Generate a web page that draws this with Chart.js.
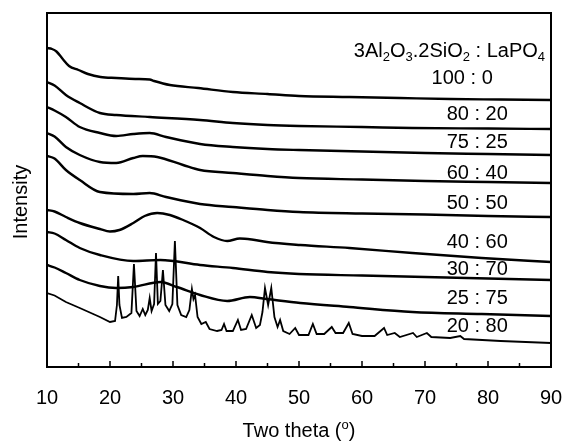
<!DOCTYPE html>
<html>
<head>
<meta charset="utf-8">
<script src="https://cdn.jsdelivr.net/npm/chart.js@4.4.0/dist/chart.umd.min.js"></script>
<style>
  html, body { margin: 0; padding: 0; background: #fff; }
</style>
</head>
<body>
<canvas id="xrdChart" width="564" height="442"></canvas>
<script>
const FONT = "'Liberation Sans', Arial, sans-serif";

const xTicks = [10, 20, 30, 40, 50, 60, 70, 80, 90];
const ratioLabels = ["100 : 0", "80 : 20", "75 : 25", "60 : 40", "50 : 50", "40 : 60", "30 : 70", "25 : 75", "20 : 80"];

// [two theta, intensity] - patterns are stacked, intensity in arbitrary units
const m100 = [[10,319],[10.8,318],[11.5,315.5],[12.5,308],[13.5,301],[15,297],[16.5,293],[18.5,290],[21,289],[24,288],[26.3,287.5],[27,286],[29.5,282],[34,279],[39.5,275],[45,273],[50,271],[58,270],[66,269],[74,268],[82,267.5],[90,267]];
const m80 = [[10,285],[11.2,281.5],[13,272],[15.2,264],[18.4,254],[21,252],[26.3,250],[34.3,247],[39.5,244],[45,242],[50,241],[60,240],[68,239],[80,238.5],[90,238]];
const m75 = [[10,260],[11.2,256.5],[13,250],[15.2,240],[18.4,234],[21,231],[23.7,233],[26.3,234],[28.9,230],[34.3,223],[39.5,220],[45,218],[50,217],[60,215.5],[70,214],[80,213],[90,212]];
const m60 = [[10,234],[11.2,230.5],[13,220],[15.2,212],[18.4,205],[21,204],[23.7,209],[25.2,211],[27.5,210],[31.6,202],[34.3,197],[39.5,194],[45,191],[50,189],[60,187.5],[70,186],[80,185],[90,184]];
const m50 = [[10,211],[11.2,208.5],[13,197],[15.2,187],[18.4,175],[23.7,173],[26.3,174],[28.9,170],[34.3,163],[39.5,160],[45,157],[50,155],[60,153.5],[70,152.5],[80,151],[90,150]];
const m40 = [[10,157],[11.2,155.5],[13,150],[15.2,144],[18.4,138],[20,135.5],[21.5,137],[23.7,144],[25.5,151],[27.5,154],[29.5,152],[31.6,147],[34.3,139],[36.5,130],[38.6,126],[40.6,128.5],[42.5,127.5],[44.9,125],[50.2,122],[58,119],[68,114],[79,109],[90,105]];
const m30 = [[10,135],[11.2,133.5],[13,127],[15.2,119],[18.4,112],[23.7,106],[28,107],[34.3,102],[39.5,99],[45,95],[50,93],[60,91.5],[70,90],[80,88.5],[90,87]];
const m25 = [[10,102],[11.2,99.5],[13,94],[15.2,87],[18.4,81],[21,79],[23.7,80],[28,85],[30.6,80],[34.3,72],[38.6,66],[42.2,70],[44.9,68],[50.2,64],[58,60],[68,55],[79,53],[90,51]];
const m20 = [[10,74],[11.2,71.5],[13,65],[15.2,59],[18.4,50],[20,45],[20.8,46],[21.1,62],[21.3,91],[21.5,62],[21.9,49],[22.6,50],[23.4,54],[23.8,103],[24.2,56],[24.7,51],[25.2,58],[25.6,52],[26.0,57],[26.3,69],[26.6,56],[27.0,63],[27.3,114],[27.6,63],[28.0,66],[28.4,97],[28.8,62],[29.4,56],[29.9,63],[30.3,126],[30.7,62],[31.3,52],[32.1,50],[32.6,57],[33.0,78],[33.25,68],[33.5,72],[33.9,50],[34.5,43],[35.2,45],[35.8,38],[37.0,36],[37.7,37],[38.1,43],[38.5,36],[39.5,36],[40.3,47],[40.8,37],[41.6,38],[42.5,52],[43.2,39],[43.8,42],[44.2,55],[44.6,79],[45.1,62],[45.6,79],[46.1,50],[46.6,40],[47.0,47],[47.5,36],[48.5,33],[49.4,39],[50.0,32],[51.5,32],[52.2,43],[52.8,33],[54.0,33],[55.2,40],[55.8,34],[57.0,34],[57.9,44],[58.5,33],[60.0,31],[62.0,31],[63.5,39],[64.0,32],[65.2,34],[66.0,30],[68.1,34],[68.7,30],[70.3,34],[71.0,30],[74.0,29],[75.6,31],[76.2,28],[82,26],[90,24]];

const patterns = [m100, m80, m75, m60, m50, m40, m30, m25, m20];

// label anchors in axis units [two theta, intensity]
const labelPos = [[75.9,290.5],[78.3,254],[78.3,226],[78.3,195],[78.3,165],[78.3,126],[78.3,99],[78.3,70],[78.3,42]];

function drawRich(ctx, parts, x, y, align, size) {
  // parts: [text, shift]  shift 1 = superscript, -1 = subscript
  const small = Math.round(size * 0.65);
  let w = 0;
  parts.forEach(([t, s]) => {
    ctx.font = (s ? small : size) + "px " + FONT;
    w += ctx.measureText(t).width;
  });
  let cx = align === "right" ? x - w : align === "center" ? x - w / 2 : x;
  ctx.textAlign = "left";
  ctx.textBaseline = "alphabetic";
  parts.forEach(([t, s]) => {
    ctx.font = (s ? small : size) + "px " + FONT;
    const dy = s === -1 ? size * 0.22 : s === 1 ? -size * 0.42 : 0;
    ctx.fillText(t, cx, y + dy);
    cx += ctx.measureText(t).width;
  });
}

const frameAndText = {
  id: "frameAndText",
  afterDraw(chart) {
    const { ctx, chartArea: a, scales: { x, y } } = chart;
    ctx.save();
    ctx.strokeStyle = "#000";
    ctx.fillStyle = "#000";

    // inward ticks on the bottom axis
    ctx.lineWidth = 1.5;
    xTicks.forEach((v, i) => {
      const px = x.getPixelForValue(v);
      ctx.beginPath(); ctx.moveTo(px, a.bottom); ctx.lineTo(px, a.bottom - 6); ctx.stroke();
      if (i < xTicks.length - 1) {
        const pm = x.getPixelForValue(v + 5);
        ctx.beginPath(); ctx.moveTo(pm, a.bottom); ctx.lineTo(pm, a.bottom - 4); ctx.stroke();
      }
    });

    ctx.lineWidth = 2;
    ctx.strokeRect(a.left, a.top, a.right - a.left, a.bottom - a.top);

    // header and ratio labels
    drawRich(ctx, [["3Al",0],["2",-1],["O",0],["3",-1],[".2SiO",0],["2",-1],[" : LaPO",0],["4",-1]],
      x.getPixelForValue(89.05), y.getPixelForValue(317.5) + 7, "right", 20);
    ratioLabels.forEach((t, i) => {
      drawRich(ctx, [[t, 0]], x.getPixelForValue(labelPos[i][0]), y.getPixelForValue(labelPos[i][1]) + 7, "center", 20);
    });

    // axis titles
    drawRich(ctx, [["Two theta (",0],["o",1],[")",0]], (a.left + a.right) / 2, 437, "center", 20);
    ctx.translate(21, 202);
    ctx.rotate(-Math.PI / 2);
    ctx.font = "20px " + FONT;
    ctx.textAlign = "center";
    ctx.textBaseline = "middle";
    ctx.fillText("Intensity", 0, 0);
    ctx.restore();
  }
};

new Chart(document.getElementById("xrdChart"), {
  type: "line",
  data: {
    datasets: patterns.map((p, i) => ({
      label: ratioLabels[i],
      data: p.map(([tt, v]) => ({ x: tt, y: v })),
      borderColor: "#000",
      borderWidth: i === 8 ? 1.8 : 2.4,
      pointRadius: 0,
      tension: 0,
      cubicInterpolationMode: i === 8 ? "default" : "monotone"
    }))
  },
  options: {
    responsive: false,
    animation: false,
    layout: { padding: { left: 47, top: 13, right: 13, bottom: 0 } },
    plugins: { legend: { display: false }, tooltip: { enabled: false } },
    scales: {
      x: {
        type: "linear",
        min: 10,
        max: 90,
        afterFit: s => { s.height = 75; s.paddingLeft = 0; s.paddingRight = 0; },
        afterBuildTicks: s => { s.ticks = xTicks.map(v => ({ value: v })); },
        ticks: {
          autoSkip: false,
          maxRotation: 0,
          padding: 19,
          color: "#000",
          font: { size: 20, family: FONT }
        },
        grid: { display: false, drawTicks: false },
        border: { display: false }
      },
      y: {
        display: false,
        min: 0,
        max: 354
      }
    }
  },
  plugins: [frameAndText]
});
</script>
</body>
</html>
